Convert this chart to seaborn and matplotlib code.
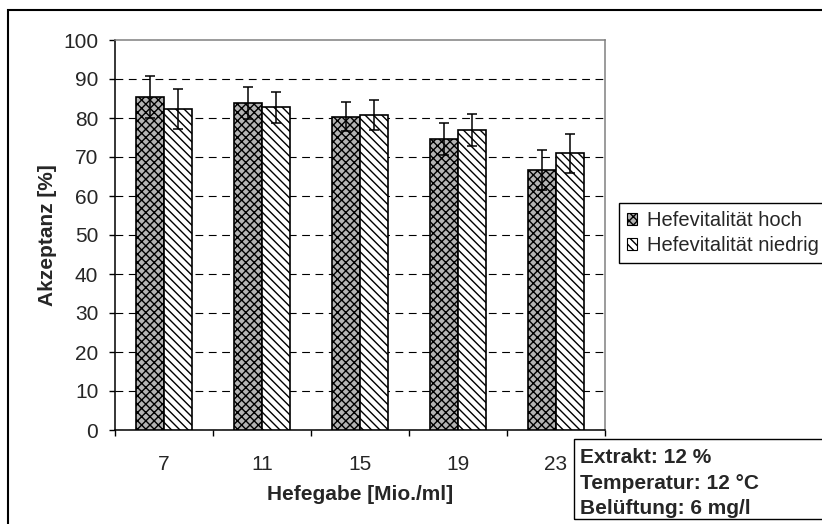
import matplotlib
matplotlib.use("Agg")
import matplotlib.pyplot as plt
import matplotlib.patches as mpatches
import pandas as pd
import seaborn as sns

# Hefegabe (Mio. Zellen/ml) und mittlere Akzeptanz mit Standardabweichung
doses = ["7", "11", "15", "19", "23"]
series = ["Hefevitalität hoch", "Hefevitalität niedrig"]
accept_high = [85.3, 83.8, 80.3, 74.5, 66.7]
err_high = [5.4, 4.1, 3.7, 4.1, 5.1]
accept_low = [82.3, 82.7, 80.8, 76.9, 70.9]
err_low = [5.2, 3.9, 3.9, 4.1, 5.0]
y_ticks = list(range(0, 101, 10))
notes = ["Extrakt: 12 %", "Temperatur: 12 °C", "Belüftung: 6 mg/l"]

sns.set_style("white")
plt.rcParams["font.family"] = ["Liberation Sans", "DejaVu Sans"]
plt.rcParams["hatch.linewidth"] = 1.0

W, H = 822, 524
df = pd.DataFrame({
    "Hefegabe": doses * 2,
    "Akzeptanz": accept_high + accept_low,
    "Serie": [series[0]] * len(doses) + [series[1]] * len(doses),
})

fig = plt.figure(figsize=(W / 100, H / 100), dpi=100)
ax = fig.add_axes([115 / W, 94 / H, 490 / W, 390 / H])

sns.barplot(data=df, x="Hefegabe", y="Akzeptanz", hue="Serie", order=doses,
            hue_order=series, width=0.57, errorbar=None, legend=False,
            saturation=1, ax=ax)

styles = [dict(facecolor="#b4b4b4", hatch="xxxx"),
          dict(facecolor="white", hatch="\\\\\\\\")]
for cont, st, err in zip(ax.containers, styles, [err_high, err_low]):
    for bar in cont:
        bar.set_facecolor(st["facecolor"])
        bar.set_hatch(st["hatch"])
        bar.set_edgecolor("black")
        bar.set_linewidth(1.2)
        bar.set_zorder(3)
    xs = [b.get_x() + b.get_width() / 2 for b in cont]
    hs = [b.get_height() for b in cont]
    ax.errorbar(xs, hs, yerr=err, fmt="none", ecolor="black", elinewidth=1.1,
                capsize=3.3, capthick=1.1, zorder=4)

# Achsen
ax.set_ylim(0, 100)
ax.set_xlim(-0.5, len(doses) - 0.5)
ax.set_yticks(y_ticks)
ax.set_yticklabels([str(t) for t in y_ticks])
ax.set_xticks(range(len(doses)))
ax.set_xticklabels(doses)
ax.set_xticks([i - 0.5 for i in range(len(doses) + 1)], minor=True)
ax.tick_params(axis="x", which="major", length=0, pad=18, labelsize=15)
ax.tick_params(axis="x", which="minor", length=4, width=1, color="black",
               direction="out", bottom=True)
ax.tick_params(axis="y", length=4, width=1, color="black", direction="out",
               pad=8, labelsize=15, left=True)

ax.set_axisbelow(True)
ax.yaxis.grid(True, color="black", linewidth=0.8, linestyle=(0, (7, 5)))
ax.xaxis.grid(False)
ax.yaxis.get_gridlines()[-1].set_visible(False)

for side in ("left", "bottom"):
    ax.spines[side].set_color("black")
    ax.spines[side].set_linewidth(1.1)
for side in ("top", "right"):
    ax.spines[side].set_color("#808080")
    ax.spines[side].set_linewidth(1.1)
    ax.spines[side].set_visible(True)

ax.set_xlabel("Hefegabe [Mio./ml]", fontsize=15, fontweight="bold")
ax.set_ylabel("Akzeptanz [%]", fontsize=15, fontweight="bold")
ax.xaxis.set_label_coords(0.5, (430 - 485) / 390)
ax.yaxis.set_label_coords((57 - 115) / 490, 0.5)

# Legende
handles = [mpatches.Patch(facecolor=st["facecolor"], hatch=st["hatch"],
                          edgecolor="black", linewidth=0.8) for st in styles]
leg = fig.legend(handles, series, loc="upper left",
                 bbox_to_anchor=(619 / W, 1 - 203 / H), fontsize=14.5,
                 frameon=True, fancybox=False, edgecolor="black",
                 framealpha=1, handlelength=0.5, handleheight=0.5,
                 handletextpad=0.5, labelspacing=0.3, borderpad=0.4,
                 borderaxespad=0)
leg.get_frame().set_linewidth(1.0)

# Versuchsbedingungen
fig.add_artist(mpatches.Rectangle((574 / W, 1 - 519 / H), 0.5, 80 / H,
                                  transform=fig.transFigure, fill=False,
                                  edgecolor="black", linewidth=1.0,
                                  clip_on=False))
for txt, base in zip(notes, [463, 489, 514]):
    fig.text(580 / W, 1 - base / H, txt, fontsize=15, fontweight="bold",
             va="baseline", ha="left")

# Diagrammrahmen
fig.add_artist(mpatches.Rectangle((8 / W, -0.1), 1.2, (H - 10) / H + 0.1,
                                  transform=fig.transFigure, fill=False,
                                  edgecolor="black", linewidth=1.5,
                                  clip_on=False))

fig.savefig("out.png", dpi=100)
